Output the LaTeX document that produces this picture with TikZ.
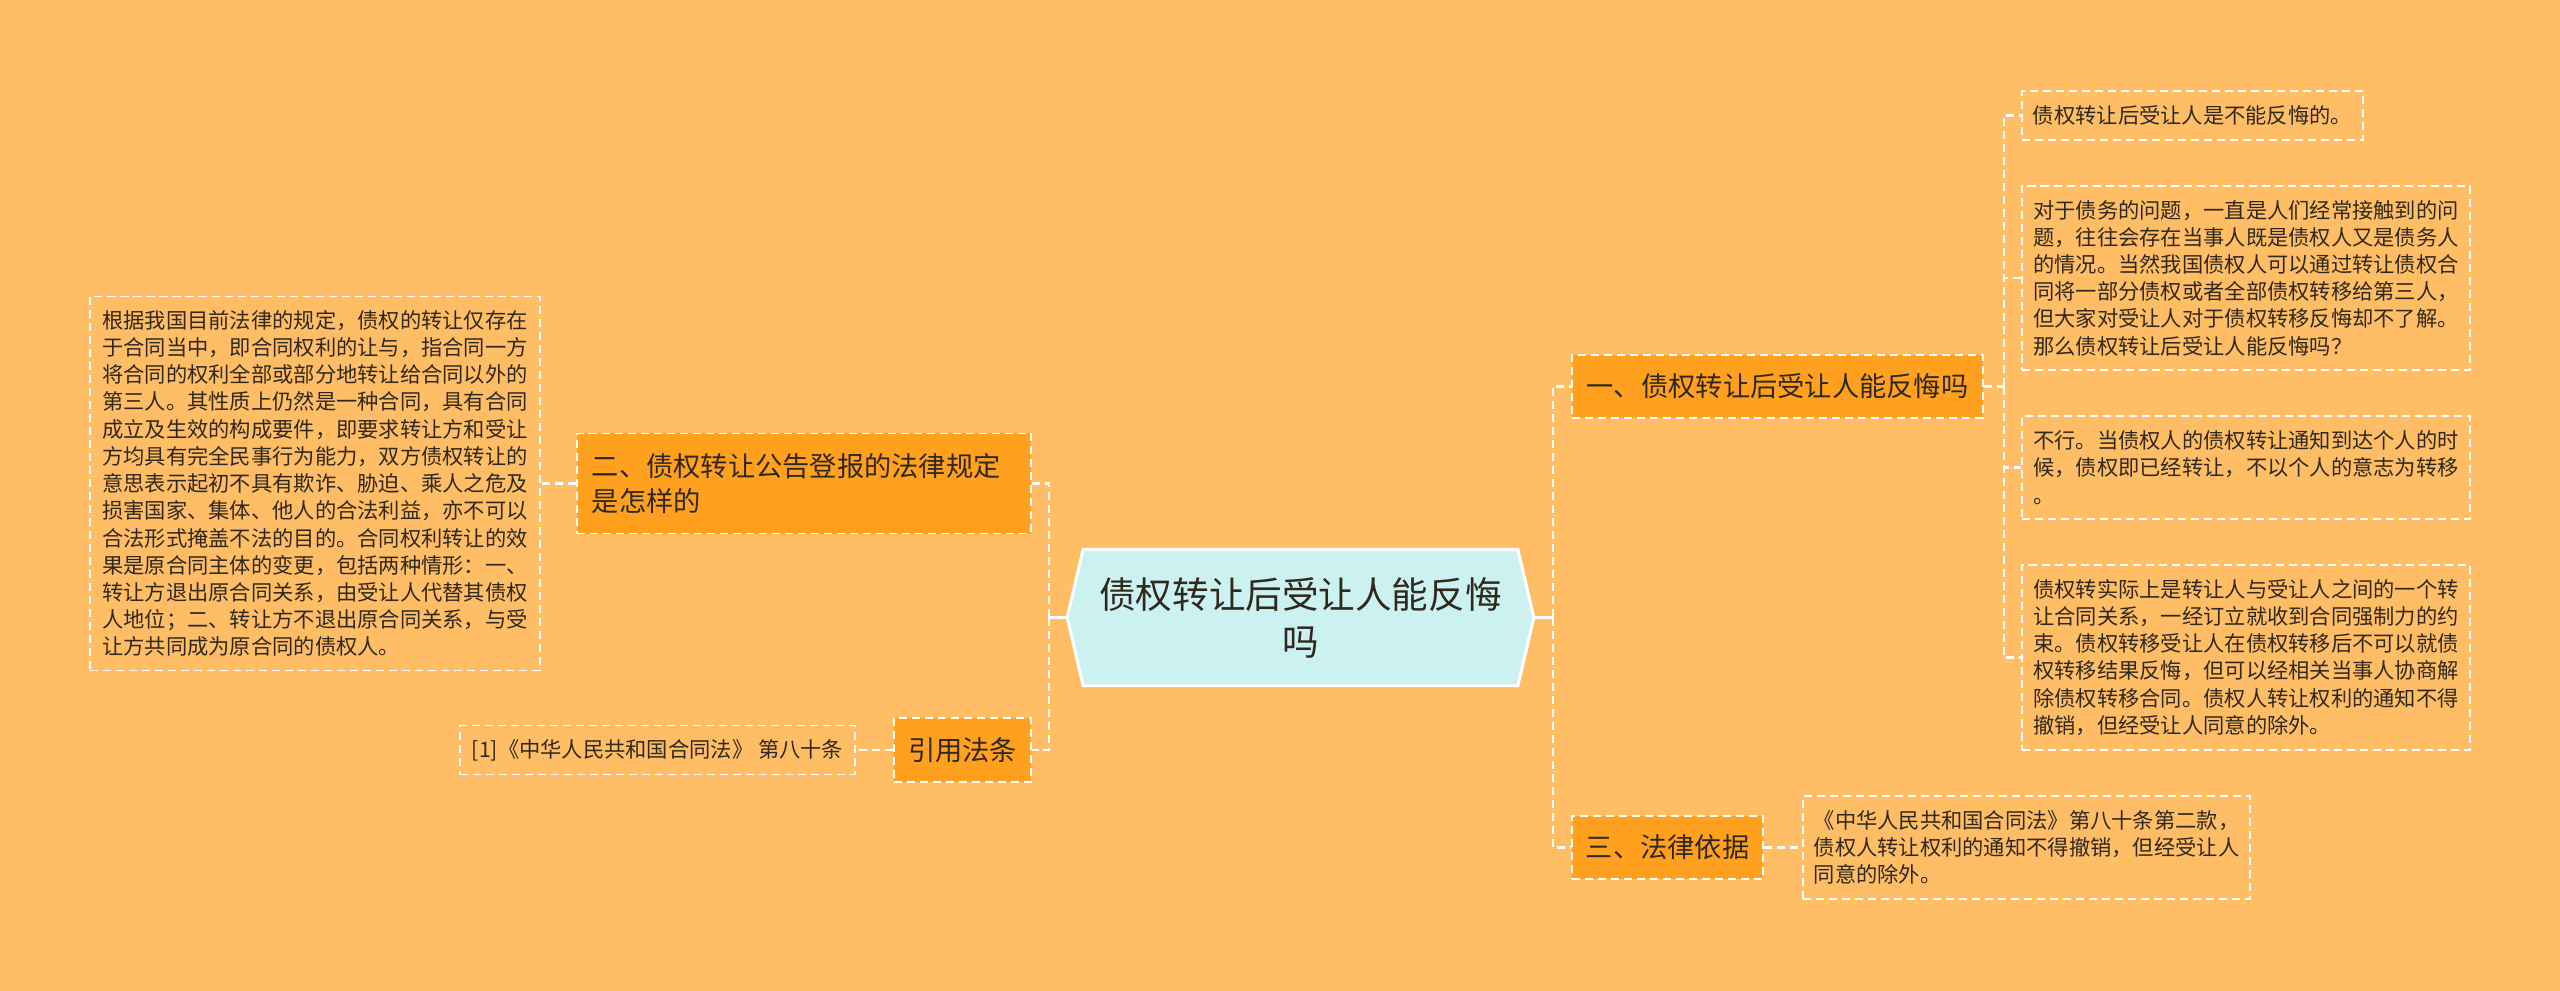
\documentclass[tikz,border=0pt]{standalone}
\usepackage{fontspec}
\setmainfont{Noto Sans CJK SC}
\usepackage{tikz}
\usetikzlibrary{backgrounds}
\definecolor{pagebg}{RGB}{255,190,102}
\definecolor{topicfill}{RGB}{255,161,30}
\definecolor{hubfill}{RGB}{203,242,240}
\definecolor{inktext}{RGB}{48,40,28}

\begin{document}
\begin{tikzpicture}[x=0.01cm, y=-0.01cm,
        hub/.style={rectangle, minimum width=4.65cm, minimum height=1.35cm, inner sep=0pt, align=center, text=inktext, font=\fontsize{10.4pt}{13.4pt}\selectfont},
        hubframe/.style={draw=white, line width=0.85pt, fill=hubfill},
        topic/.style={rectangle, draw=white, dash pattern=on 2.3pt off 1.4pt, line width=0.45pt, fill=topicfill, inner sep=0pt, align=left, text=inktext, font=\fontsize{7.75pt}{9.96pt}\selectfont},
        leaf/.style={rectangle, draw=white, dash pattern=on 2.3pt off 1.4pt, line width=0.45pt, inner sep=0pt, align=left, text=inktext, font=\fontsize{6.05pt}{7.74pt}\selectfont},
        link/.style={draw=white, line width=0.6pt, dash pattern=on 2.3pt off 1.4pt},
        trunk/.style={draw=white, line width=0.85pt}]

        % Nodes
        \node[hub] (root) at (1300.5,617.5) {债权转让后受让人能反悔\\吗};

        \node[topic, minimum width=4.11cm, minimum height=0.63cm] (q1) at (1777.5,386.5) {一、债权转让后受让人能反悔吗};
        \node[topic, minimum width=4.54cm, minimum height=1.0cm, text width=4.24cm] (q2) at (804,483.5) {二、债权转让公告登报的法律规定\\是怎样的};
        \node[topic, minimum width=1.91cm, minimum height=0.63cm] (q3) at (1667.5,847.5) {三、法律依据};
        \node[topic, minimum width=1.37cm, minimum height=0.64cm] (ref) at (962.5,750) {引用法条};

        \node[leaf, minimum width=3.41cm, minimum height=0.49cm] (a1) at (2192.5,115.5) {债权转让后受让人是不能反悔的。};
        \node[leaf, minimum width=4.48cm, minimum height=1.84cm] (a2) at (2246,278) {对于债务的问题，一直是人们经常接触到的问\\题，往往会存在当事人既是债权人又是债务人\\的情况。当然我国债权人可以通过转让债权合\\同将一部分债权或者全部债权转移给第三人，\\但大家对受让人对于债权转移反悔却不了解。\\那么债权转让后受让人能反悔吗？};
        \node[leaf, minimum width=4.48cm, minimum height=1.03cm] (a3) at (2246,467.5) {不行。当债权人的债权转让通知到达个人的时\\候，债权即已经转让，不以个人的意志为转移\\。};
        \node[leaf, minimum width=4.48cm, minimum height=1.85cm] (a4) at (2246,657.5) {债权转实际上是转让人与受让人之间的一个转\\让合同关系，一经订立就收到合同强制力的约\\束。债权转移受让人在债权转移后不可以就债\\权转移结果反悔，但可以经相关当事人协商解\\除债权转移合同。债权人转让权利的通知不得\\撤销，但经受让人同意的除外。};
        \node[leaf, minimum width=4.5cm, minimum height=3.74cm] (rule) at (315,483.5) {根据我国目前法律的规定，债权的转让仅存在\\于合同当中，即合同权利的让与，指合同一方\\将合同的权利全部或部分地转让给合同以外的\\第三人。其性质上仍然是一种合同，具有合同\\成立及生效的构成要件，即要求转让方和受让\\方均具有完全民事行为能力，双方债权转让的\\意思表示起初不具有欺诈、胁迫、乘人之危及\\损害国家、集体、他人的合法利益，亦不可以\\合法形式掩盖不法的目的。合同权利转让的效\\果是原合同主体的变更，包括两种情形：一、\\转让方退出原合同关系，由受让人代替其债权\\人地位；二、转让方不退出原合同关系，与受\\让方共同成为原合同的债权人。};
        \node[leaf, minimum width=4.47cm, minimum height=1.03cm] (law) at (2026.5,847.5) {《中华人民共和国合同法》第八十条第二款，\\债权人转让权利的通知不得撤销，但经受让人\\同意的除外。};
        \node[leaf, minimum width=3.95cm, minimum height=0.49cm] (cite) at (657.5,750) {[1]《中华人民共和国合同法》 第八十条};

        % Connections
        \draw[trunk] (root.west) -- ++(-18,0) coordinate (lbus);
        \draw[trunk] (root.east) -- ++(19,0) coordinate (rbus);
        \draw[link] (lbus) |- (q2.east);
        \draw[link] (lbus) |- (ref.east);
        \draw[link] (rbus) |- (q1.west);
        \draw[link] (rbus) |- (q3.west);

        \draw[link] (q1.east) -- ++(20,0) coordinate (abus);
        \foreach \n in {a1,a2,a3,a4}
            \draw[link] (abus) |- (\n.west);
        \draw[link] (q2.west) -- (rule.east);
        \draw[link] (ref.west) -- (cite.east);
        \draw[link] (q3.east) -- (law.west);

        % Backdrop and hub outline
        \begin{pgfonlayer}{background}
            \fill[pagebg] (0,0) rectangle (2560,991);
            \draw[hubframe] (root.west) -- ([xshift=0.16cm]root.north west) -- ([xshift=-0.16cm]root.north east) -- (root.east) -- ([xshift=-0.16cm]root.south east) -- ([xshift=0.16cm]root.south west) -- cycle;
        \end{pgfonlayer}
        \useasboundingbox (0,0) rectangle (2560,991);

    \end{tikzpicture}
\end{document}
